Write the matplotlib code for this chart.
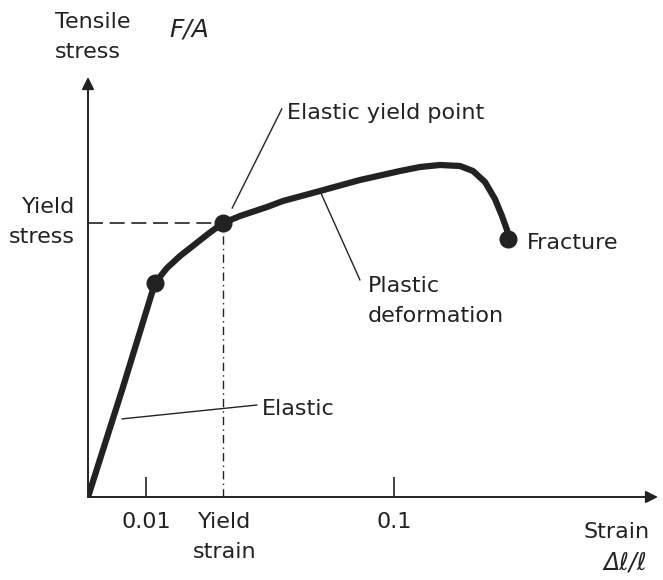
import matplotlib
matplotlib.use("Agg")
import matplotlib.pyplot as plt

plt.rcParams['font.family'] = ['DejaVu Sans']

# curve, axes in % of axis length (schematic diagram)
strain = [0, 6.1, 11.75, 13.86, 16.14, 18.60, 21.05, 23.68, 26.67, 31.40, 34.21,
          40.70, 47.72, 54.74, 58.25, 61.75, 65.26, 67.54, 69.65, 71.40, 72.63,
          73.51, 73.68]
stress = [0, 26.0, 50.95, 54.52, 57.38, 60.0, 62.62, 65.24, 66.90, 69.05, 70.48,
          72.86, 75.48, 77.62, 78.57, 79.05, 78.81, 77.62, 75.0, 70.95, 66.90,
          63.57, 61.43]

# marked points: end of elastic part, elastic yield point, fracture
dot_x = [11.75, 23.68, 73.68]
dot_y = [50.95, 65.24, 61.43]

yield_strain = 23.68
yield_stress = 65.24

tick_pos = [10.2, 53.7]
tick_labels = ['0.01', '0.1']

fig = plt.figure(figsize=(6.63, 5.8), dpi=100)
ax = fig.add_axes([88 / 663, 83 / 580, 570 / 663, 420 / 580])
ax.set_xlim(0, 100)
ax.set_ylim(0, 100)
ax.axis('off')

# axes with arrows
arrow = dict(arrowstyle='-|>', color='#222222', lw=1.4, mutation_scale=18,
             shrinkA=0, shrinkB=0)
ax.annotate('', xy=(100, 0), xytext=(0, 0), arrowprops=arrow, annotation_clip=False)
ax.annotate('', xy=(0, 100), xytext=(0, 0), arrowprops=arrow, annotation_clip=False)

# ticks on strain axis
ax.vlines(tick_pos, 0, 4.8, color='#222222', lw=1.2)
for x, lab in zip(tick_pos, tick_labels):
    ax.text(x, -6.0, lab, ha='center', va='center', fontsize=16, color='#222222')

# yield guide lines
ax.plot([0, yield_strain], [yield_stress, yield_stress], color='#222222', lw=1.2,
        dashes=(9, 4))
ax.plot([yield_strain, yield_strain], [0, yield_stress], color='#222222', lw=1.0,
        linestyle=(0, (6, 3, 1, 3)))

# stress-strain curve
ax.plot(strain, stress, color='#222222', lw=4.5, solid_capstyle='round',
        solid_joinstyle='round')
ax.plot(dot_x, dot_y, 'o', color='#222222', markersize=12)

# leader lines
lead = dict(color='#222222', lw=1.0)
ax.plot([25.3, 34.0], [68.8, 92.4], **lead)
ax.plot([6.0, 29.6], [18.6, 21.9], **lead)
ax.plot([40.7, 47.7], [72.86, 51.7], **lead)

txt = dict(fontsize=16, color='#222222', linespacing=1.6)
ax.text(-5.8, 109.5, 'Tensile\nstress', ha='left', va='center', clip_on=False, **txt)
ax.text(17.7, 111.2, 'F/A', ha='center', va='center', fontsize=18, style='italic',
        color='#222222', clip_on=False)
ax.text(-2.3, 65.5, 'Yield\nstress', ha='right', va='center', multialignment='right',
        clip_on=False, **txt)
ax.text(23.9, -9.5, 'Yield\nstrain', ha='center', va='center', clip_on=False, **txt)
ax.text(87.0, -8.3, 'Strain', ha='left', va='center', clip_on=False, **txt)
ax.text(94.2, -15.5, 'Δℓ/ℓ', ha='center', va='center', fontsize=17, style='italic',
        color='#222222', clip_on=False)
ax.text(34.9, 91.4, 'Elastic yield point', ha='left', va='center', **txt)
ax.text(30.5, 21.0, 'Elastic', ha='left', va='center', **txt)
ax.text(77.0, 60.5, 'Fracture', ha='left', va='center', **txt)
ax.text(49.1, 46.7, 'Plastic\ndeformation', ha='left', va='center', **txt)

fig.savefig('out.png', dpi=100, facecolor='white')
